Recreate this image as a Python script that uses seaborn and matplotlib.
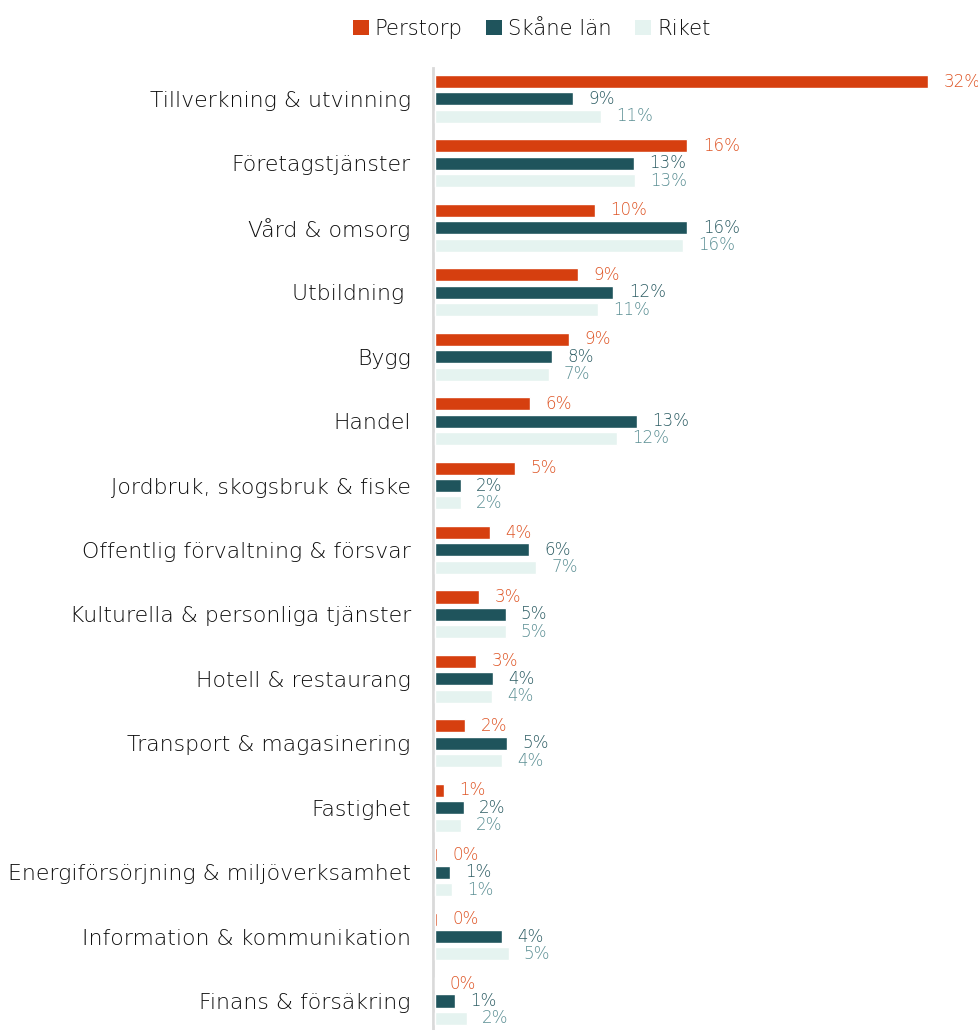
import numpy as np
import pandas as pd
import seaborn as sns
import matplotlib.pyplot as plt
from matplotlib.patches import Patch

categories = ['Tillverkning & utvinning', 'Företagstjänster', 'Vård & omsorg', 'Utbildning ',
              'Bygg', 'Handel', 'Jordbruk, skogsbruk & fiske', 'Offentlig förvaltning & försvar',
              'Kulturella & personliga tjänster', 'Hotell & restaurang', 'Transport & magasinering',
              'Fastighet', 'Energiförsörjning & miljöverksamhet', 'Information & kommunikation',
              'Finans & försäkring']
perstorp = [32.0, 16.4, 10.4, 9.3, 8.7, 6.2, 5.2, 3.6, 2.9, 2.7, 2.0, 0.6, 0.15, 0.15, 0.0]
skane = [9.0, 12.9, 16.4, 11.6, 7.6, 13.1, 1.7, 6.1, 4.6, 3.8, 4.7, 1.9, 1.0, 4.4, 1.3]
riket = [10.8, 13.0, 16.1, 10.6, 7.4, 11.8, 1.7, 6.6, 4.6, 3.7, 4.4, 1.7, 1.1, 4.8, 2.1]
regions = ['Perstorp', 'Skåne län', 'Riket']

bar_colors = ['#D63F0F', '#1F545C', '#E5F3F0']
label_colors = ['#DE5424', '#2C5C63', '#5A8E93']

df = pd.DataFrame({
    'Bransch': categories * 3,
    'Andel': perstorp + skane + riket,
    'Region': [r for r in regions for _ in categories],
})

sns.set_style('white')
plt.rcParams['font.family'] = ['DejaVu Sans']

fig = plt.figure(figsize=(9.79, 10.3), dpi=100)
ax = fig.add_axes([0.4423, 0.0, 0.5577, 0.934])

sns.barplot(data=df, x='Andel', y='Bransch', hue='Region', orient='h',
            palette=bar_colors, width=0.81, gap=0.25, ax=ax, legend=False,
            saturation=1)

for cont, col in zip(ax.containers, label_colors):
    ax.bar_label(cont, labels=[f'{v:.0f}%' for v in cont.datavalues],
                 padding=11, color=col, fontsize=12, fontweight='light')

ax.set_xlim(-0.1, 35.3)
ax.set_ylim(14.45, -0.48)
ax.set_xlabel('')
ax.set_ylabel('')
ax.set_xticks([])
ax.tick_params(axis='y', length=0, pad=16, labelsize=15.8, labelcolor='#0d0d0d')
for lbl in ax.get_yticklabels():
    lbl.set_fontweight('light')
for s in ['top', 'right', 'bottom']:
    ax.spines[s].set_visible(False)
ax.spines['left'].set_color('#D9D9D9')
ax.spines['left'].set_linewidth(2)
ax.spines['left'].set_zorder(0.5)

handles = [Patch(facecolor=c, edgecolor='none') for c in bar_colors]
leg = fig.legend(handles, regions, loc='upper center', bbox_to_anchor=(0.543, 1.0),
                 ncol=3, frameon=False, prop={'size': 15.2, 'weight': 'light'},
                 handlelength=0.75, handleheight=0.75, handletextpad=0.3, columnspacing=1.1)
for t in leg.get_texts():
    t.set_color('#0d0d0d')

plt.savefig('out.png', dpi=100)
